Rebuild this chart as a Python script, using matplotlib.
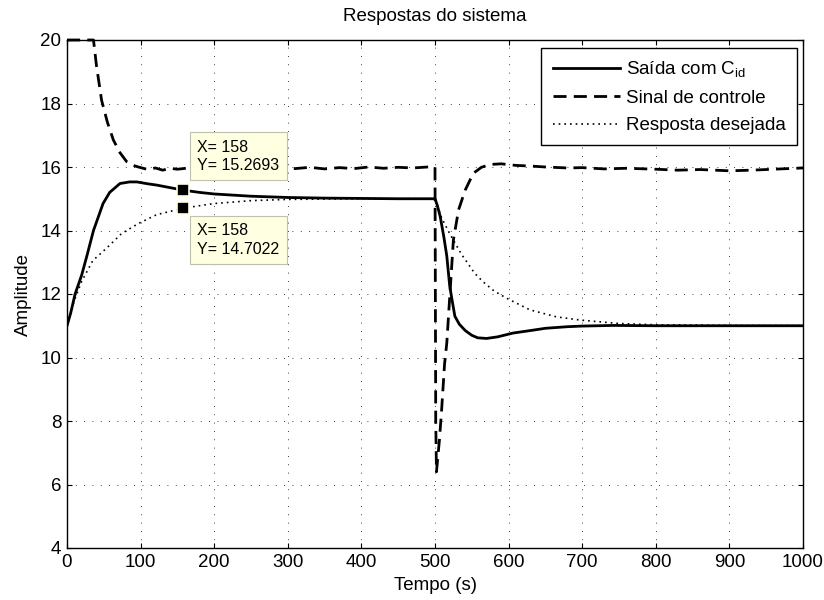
import matplotlib
matplotlib.use("Agg")
import matplotlib.pyplot as plt

plt.rcParams['font.family'] = ['Liberation Sans', 'DejaVu Sans']
plt.rcParams['mathtext.default'] = 'regular'

# saida com C_id (solid)
t_saida = [0, 5, 11, 20, 27, 36, 49, 58, 72, 85, 95, 110, 122, 140, 158, 180, 200, 250, 300,
           350, 400, 450, 499, 500, 503, 507, 512, 516, 520, 524, 527, 533, 541, 550, 558, 570,
           585, 606, 630, 650, 680, 700, 742, 800, 900, 1000]
y_saida = [11.0, 11.4, 12.0, 12.6, 13.2, 14.0, 14.85, 15.2, 15.48, 15.53, 15.53, 15.47, 15.43,
           15.35, 15.27, 15.2, 15.15, 15.08, 15.04, 15.02, 15.01, 15.0, 15.0, 15.0, 14.8, 14.45,
           13.8, 13.2, 12.25, 11.7, 11.3, 11.05, 10.85, 10.7, 10.62, 10.6, 10.65, 10.77, 10.85,
           10.92, 10.97, 10.99, 11.01, 11.0, 11.0, 11.0]

# sinal de controle (dashed)
t_ctrl = [0, 36, 40, 47, 55, 63, 72, 81, 90, 97, 110, 120, 130, 140, 150, 170, 190,
          210, 230, 250, 270, 290, 310, 330, 350, 370, 390, 410, 430, 450, 470, 490, 500,
          501, 502, 506, 509, 513, 516, 520, 525, 532, 541, 552, 563, 575, 590, 610, 630,
          650, 680, 700, 730, 760, 800, 830, 860, 900, 930, 960, 1000]
y_ctrl = [20.0, 20.0, 19.2, 18.1, 17.4, 16.85, 16.45, 16.17, 16.05, 16.0, 15.92,
          15.97, 15.9, 15.96, 15.93, 15.98, 15.92, 15.97, 15.94, 15.99, 15.93, 15.98, 15.95,
          15.99, 15.94, 15.98, 15.95, 16.0, 15.96, 15.99, 15.97, 16.0, 16.0,
          8.0, 6.4, 7.4, 8.35, 9.8, 10.45, 11.9, 13.7, 14.65, 15.27, 15.8, 15.99, 16.08, 16.1,
          16.05, 16.03, 16.0, 15.97, 15.98, 15.94, 15.96, 15.93, 15.9, 15.92, 15.88, 15.9,
          15.93, 15.97]

# resposta desejada (dotted)
t_des = [0, 10, 20, 35, 54, 74, 97, 122, 158, 200, 250, 300, 400, 500, 503, 509, 520, 536,
         554, 565, 580, 597, 629, 665, 697, 750, 800, 900, 1000]
y_des = [11.0, 11.8, 12.4, 13.05, 13.45, 13.9, 14.22, 14.5, 14.7022, 14.85, 14.94, 14.98,
         15.0, 15.0, 14.8, 14.4, 13.9, 13.25, 12.65, 12.39, 12.1, 11.87, 11.5, 11.28, 11.18,
         11.07, 11.03, 11.01, 11.0]

tip_x = [158, 158]
tip_y = [15.2693, 14.7022]

fig = plt.figure(figsize=(8.24, 6), dpi=100)
ax = fig.add_axes([67/824, 1-548/600, 736/824, 508/600])

ax.plot(t_saida, y_saida, color='black', lw=2, label='Saída com C$_{id}$')
ax.plot(t_ctrl, y_ctrl, color='black', lw=2, dashes=(4.7, 2.6), label='Sinal de controle',
        clip_on=False)
ax.plot(t_des, y_des, color='black', lw=1.2, dashes=(1, 2.4), label='Resposta desejada')

ax.set_xlim(0, 1000)
ax.set_ylim(4, 20)
ax.set_xticks(range(0, 1001, 100))
ax.set_yticks(range(4, 21, 2))
ax.grid(True, color='black', lw=0.6, dashes=(1, 9))
ax.tick_params(direction='in', top=True, right=True, length=3.6, labelsize=13.5, pad=4)
for s in ax.spines.values():
    s.set_linewidth(1.0)

ax.set_title('Respostas do sistema', fontsize=13.5, pad=14)
ax.set_xlabel('Tempo (s)', fontsize=13.5, labelpad=5)
ax.set_ylabel('Amplitude', fontsize=13.5, labelpad=6)

leg = ax.legend(loc='upper right', bbox_to_anchor=(0.9918, 0.9843), borderaxespad=0,
                fontsize=13.5, fancybox=False, framealpha=1, edgecolor='black',
                handlelength=3.6, handletextpad=0.3, borderpad=0.6, labelspacing=0.55)
leg.get_frame().set_linewidth(1.0)

# data tips
ax.plot(tip_x, tip_y, 's', color='black', ms=8, mec='#ffffe1', mew=1.2, zorder=6)
ax.annotate('X= %d\nY= %.4f' % (tip_x[0], tip_y[0]), xy=(tip_x[0], tip_y[0]),
            xytext=(14, 17), textcoords='offset pixels', ha='left', va='bottom',
            fontsize=11.5, linespacing=1.3, zorder=5,
            bbox=dict(boxstyle='square,pad=0.45', fc='#ffffe1', ec='#c0c0ac', lw=0.8))
ax.annotate('X= %d\nY= %.4f' % (tip_x[1], tip_y[1]), xy=(tip_x[1], tip_y[1]),
            xytext=(14, -15), textcoords='offset pixels', ha='left', va='top',
            fontsize=11.5, linespacing=1.3, zorder=5,
            bbox=dict(boxstyle='square,pad=0.45', fc='#ffffe1', ec='#c0c0ac', lw=0.8))

fig.savefig('out.png', dpi=100)
